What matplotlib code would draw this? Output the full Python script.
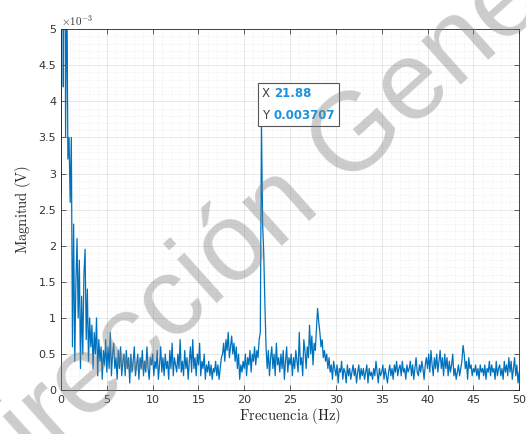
import matplotlib
matplotlib.use('Agg')
import matplotlib.pyplot as plt
import numpy as np
from matplotlib.ticker import MultipleLocator, FuncFormatter
from matplotlib.offsetbox import TextArea, HPacker, VPacker, AnnotationBbox

plt.rcParams['mathtext.fontset'] = 'cm'

# frequency step of the spectrum (Hz)
df = 0.125

# magnitude in mV, one row per Hz (8 bins per row)
mag_mV = [
    2.7, 12.0, 4.2, 9.0, 3.5, 6.0, 3.2, 3.5,
    2.6, 3.5, 0.6, 2.3, 0.4, 1.5, 2.1, 1.0,
    1.8, 0.3, 1.3, 0.5, 1.6, 1.95, 0.7, 1.4,
    0.4, 1.0, 0.6, 0.9, 0.3, 0.8, 0.5, 1.0,
    0.2, 0.7, 0.4, 0.6, 0.15, 0.55, 0.35, 0.7,
    0.25, 0.6, 0.3, 0.8, 0.2, 0.5, 0.65, 0.3,
    0.45, 0.15, 0.55, 0.3, 0.6, 0.2, 0.4, 0.5,
    0.2, 0.55, 0.3, 0.45, 0.1, 0.5, 0.25, 0.4,
    0.6, 0.2, 0.35, 0.5, 0.15, 0.45, 0.3, 0.55,
    0.2, 0.4, 0.25, 0.6, 0.3, 0.15, 0.45, 0.35,
    0.5, 0.2, 0.4, 0.3, 0.55, 0.15, 0.35, 0.6,
    0.25, 0.45, 0.2, 0.5, 0.3, 0.4, 0.15, 0.55,
    0.3, 0.65, 0.2, 0.45, 0.35, 0.25, 0.5, 0.3,
    0.7, 0.25, 0.4, 0.2, 0.55, 0.3, 0.45, 0.15,
    0.4, 0.6, 0.25, 0.7, 0.3, 0.45, 0.2, 0.5,
    0.35, 0.65, 0.2, 0.4, 0.3, 0.5, 0.15, 0.35,
    0.25, 0.4, 0.2, 0.35, 0.15, 0.3, 0.25, 0.4,
    0.2, 0.35, 0.15, 0.3, 0.45, 0.5, 0.65, 0.4,
    0.7, 0.55, 0.8, 0.45, 0.6, 0.75, 0.5, 0.65,
    0.4, 0.6, 0.3, 0.5, 0.15, 0.35, 0.25, 0.4,
    0.3, 0.5, 0.2, 0.45, 0.35, 0.55, 0.25, 0.5,
    0.4, 0.6, 0.35, 0.55, 0.45, 0.7, 0.8, 3.707,
    2.3, 1.9, 1.2, 0.6, 0.3, 0.55, 0.2, 0.45,
    0.6, 0.3, 0.5, 0.2, 0.65, 0.35, 0.45, 0.25,
    0.5, 0.3, 0.55, 0.15, 0.4, 0.6, 0.25, 0.45,
    0.35, 0.5, 0.2, 0.45, 0.3, 0.55, 0.4, 0.25,
    0.8, 0.35, 0.45, 0.2, 0.7, 0.55, 0.3, 0.6,
    0.45, 0.9, 0.5, 0.75, 0.35, 0.65, 0.55, 0.85,
    1.13, 0.95, 0.8, 0.6, 0.7, 0.45, 0.55, 0.4,
    0.5, 0.3, 0.45, 0.25, 0.35, 0.15, 0.4, 0.3,
    0.2, 0.35, 0.1, 0.3, 0.25, 0.4, 0.15, 0.3,
    0.25, 0.1, 0.35, 0.2, 0.3, 0.15, 0.25, 0.35,
    0.2, 0.3, 0.1, 0.25, 0.35, 0.15, 0.3, 0.2,
    0.3, 0.15, 0.25, 0.35, 0.1, 0.3, 0.2, 0.25,
    0.15, 0.3, 0.2, 0.4, 0.25, 0.1, 0.3, 0.2,
    0.25, 0.35, 0.15, 0.3, 0.2, 0.1, 0.25, 0.35,
    0.2, 0.3, 0.15, 0.35, 0.25, 0.4, 0.2, 0.3,
    0.35, 0.2, 0.4, 0.25, 0.3, 0.15, 0.35, 0.25,
    0.3, 0.4, 0.2, 0.35, 0.15, 0.3, 0.45, 0.25,
    0.2, 0.35, 0.25, 0.4, 0.3, 0.15, 0.35, 0.45,
    0.3, 0.5, 0.25, 0.55, 0.35, 0.2, 0.45, 0.3,
    0.5, 0.25, 0.4, 0.55, 0.3, 0.45, 0.2, 0.5,
    0.3, 0.45, 0.2, 0.4, 0.25, 0.35, 0.5, 0.2,
    0.3, 0.15, 0.25, 0.35, 0.2, 0.3, 0.4, 0.62,
    0.5, 0.3, 0.4, 0.15, 0.45, 0.3, 0.35, 0.2,
    0.3, 0.25, 0.35, 0.2, 0.3, 0.15, 0.35, 0.25,
    0.3, 0.2, 0.35, 0.15, 0.3, 0.25, 0.4, 0.2,
    0.35, 0.25, 0.3, 0.15, 0.4, 0.2, 0.3, 0.35,
    0.2, 0.3, 0.15, 0.4, 0.25, 0.35, 0.2, 0.45,
    0.25, 0.4, 0.15, 0.3, 0.45, 0.2, 0.35, 0.1,
    0.25,
]

freq = np.arange(len(mag_mV)) * df
mag = np.array(mag_mV) * 1e-3

# data tip on the highest peak above 5 Hz
tip_idx = int(np.argmax(np.where(freq > 5, mag, 0)))

fig = plt.figure(figsize=(5.26, 4.34), dpi=100)
ax = fig.add_axes([0.116, 0.101, 0.871, 0.832])

ax.plot(freq, mag, color='#0072BD', linewidth=0.9)

ax.set_xlim(0, 50)
ax.set_ylim(0, 5e-3)
ax.xaxis.set_major_locator(MultipleLocator(5))
ax.xaxis.set_minor_locator(MultipleLocator(1))
ax.yaxis.set_major_locator(MultipleLocator(0.5e-3))
ax.yaxis.set_minor_locator(MultipleLocator(0.1e-3))
ax.yaxis.set_major_formatter(FuncFormatter(lambda v, p: '%g' % round(v * 1e3, 3)))

ax.grid(which='major', color='#262626', alpha=0.15, linewidth=0.5)
ax.grid(which='minor', color='#262626', alpha=0.1, linewidth=0.5, linestyle=':')
ax.tick_params(which='both', direction='in', top=True, right=True,
               colors='#262626', labelsize=8, labelcolor='#333333')
ax.tick_params(which='major', length=3.5, width=0.5)
ax.tick_params(which='minor', length=0)
for s in ax.spines.values():
    s.set_color('#262626')
    s.set_linewidth(0.6)

ax.text(0.0, 1.003, r'$\mathsf{\times 10^{-3}}$', transform=ax.transAxes,
        fontsize=8, color='#333333', ha='left', va='bottom')

ax.set_xlabel(r'$\mathrm{Frecuencia\ (Hz)}$', fontsize=10.5, color='#262626', labelpad=1)
ax.set_ylabel(r'$\mathrm{Magnitud\ (V)}$', fontsize=10.5, color='#262626', labelpad=4)

# data tip box
gray = '#404040'
blue = '#1E90E0'
row_x = HPacker(children=[TextArea('X', textprops=dict(color=gray, fontsize=8.5)),
                          TextArea('%.2f' % freq[tip_idx],
                                   textprops=dict(color=blue, fontsize=8.5, fontweight='bold'))],
                pad=0, sep=3)
row_y = HPacker(children=[TextArea('Y', textprops=dict(color=gray, fontsize=8.5)),
                          TextArea('%.4g' % mag[tip_idx],
                                   textprops=dict(color=blue, fontsize=8.5, fontweight='bold'))],
                pad=0, sep=3)
tip = VPacker(children=[row_x, row_y], pad=0, sep=6, align='left')
ab = AnnotationBbox(tip, (freq[tip_idx], mag[tip_idx]), box_alignment=(0, 0),
                    xybox=(0.5, 0.5), boxcoords='offset points', pad=1.0,
                    bboxprops=dict(boxstyle='square', facecolor='white',
                                   edgecolor='#555555', linewidth=0.8))
ax.add_artist(ab)
ax.plot(freq[tip_idx], mag[tip_idx], 's', color='#262626', markersize=3)

# watermark
fig.text(0.55, 0.54, 'Dirección General', fontsize=80, color='#808080', alpha=0.4,
         rotation=42, ha='center', va='center', family='Liberation Sans', zorder=10)

fig.savefig('out.png', dpi=100)
